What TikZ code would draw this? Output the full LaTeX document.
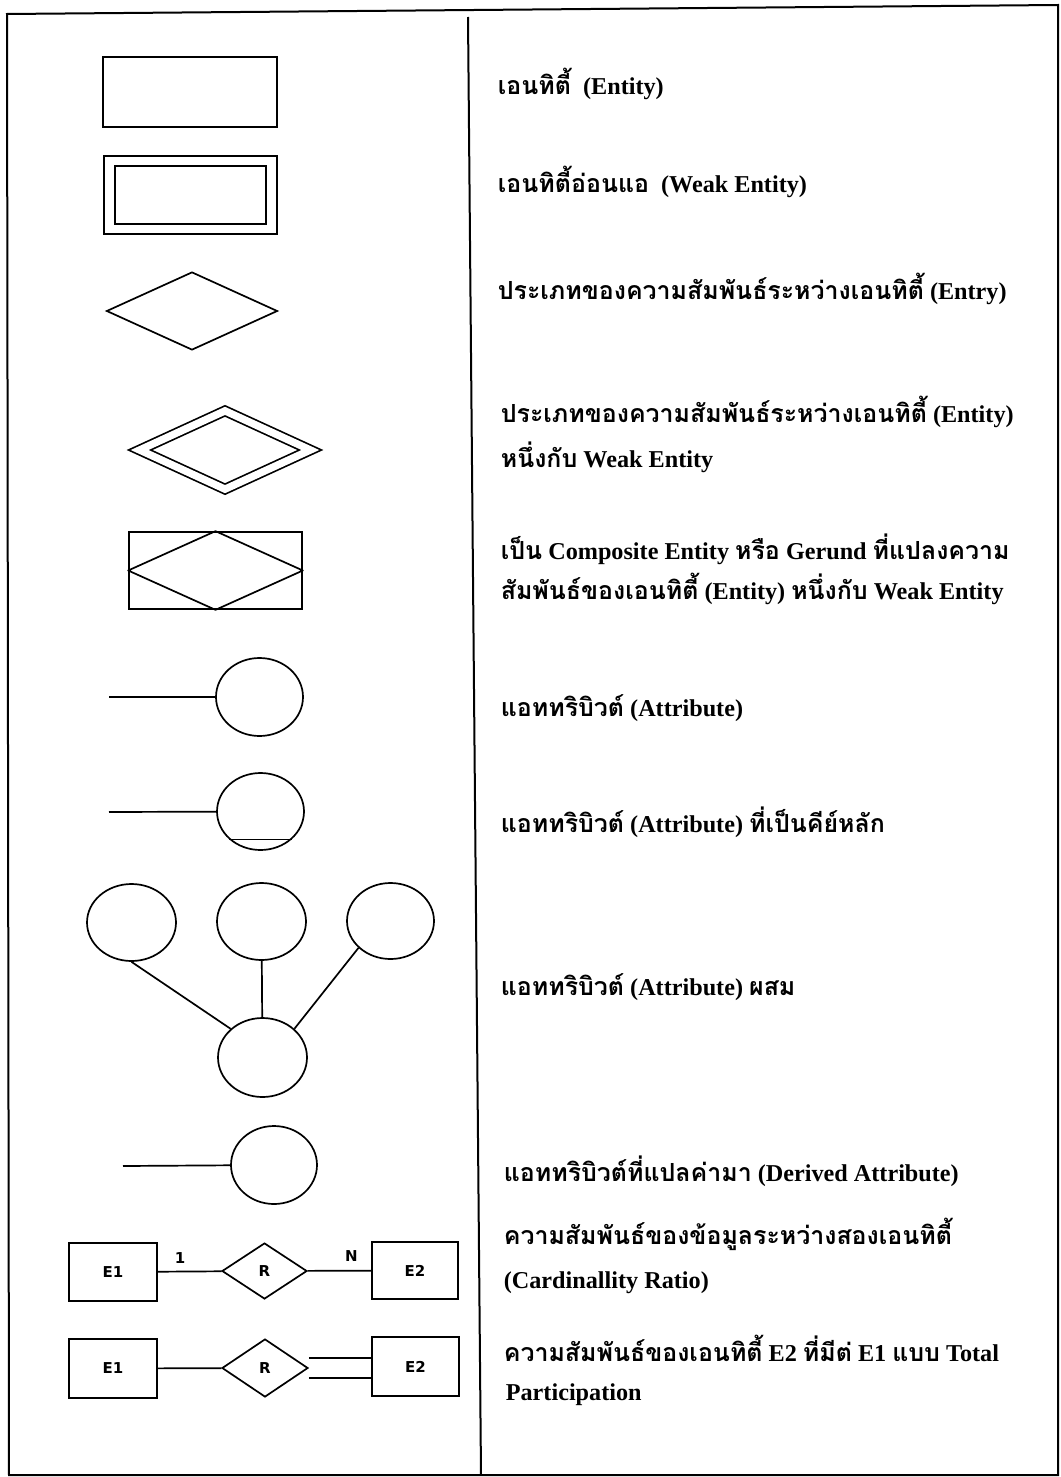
\documentclass[tikz,border=0pt]{standalone}
\usepackage{fontspec}
\setmainfont{Liberation Serif}
\newfontfamily\thaifont[Script=Thai,Scale=1.03]{Loma}
\newfontfamily\boxfont{DejaVu Sans}
\usetikzlibrary{shapes.geometric,calc,positioning}
\newcommand{\thtxt}[1]{{\thaifont #1}}

\begin{document}
\begin{tikzpicture}[x=0.5pt,y=-0.5pt,line width=0.85pt,
    ent/.style={draw, rectangle, inner sep=0pt},
    rel/.style={draw, diamond, inner sep=0pt},
    attr/.style={draw, ellipse, inner sep=0pt, minimum width=43.5pt, minimum height=39pt},
    desc/.style={anchor=base west, inner sep=0pt, font=\fontsize{12.1}{14}\selectfont\bfseries},
    lbl/.style={inner sep=0pt, font=\boxfont\bfseries\fontsize{7.5}{9}\selectfont}]
    \useasboundingbox (0,0) rectangle (1060,1477);
    % frame and divider
    \draw[line width=1pt] (7,14) -- (1058,5) -- (1058,1475) -- (9,1475) -- cycle;
    \draw[line width=1pt] (468,17) -- (481,1475);

    % symbols
    \node[ent, minimum width=87pt, minimum height=35pt] (entity) at (190,92) {};
    \node[ent, double, double distance=4.4pt, minimum width=81pt, minimum height=34pt] (weak) at (190.5,195) {};
    \node[rel, minimum width=85.5pt, minimum height=39pt] (relship) at (192,311) {};
    \node[rel, double, double distance=3.7pt, minimum width=85.75pt, minimum height=39.5pt] (idrel) at (225,450) {};
    \node[ent, minimum width=86.5pt, minimum height=38.5pt] (gerund) at (215.5,570.5) {};
    \draw[line join=round] (gerund.north) -- (gerund.east) -- (gerund.south) -- (gerund.west) -- cycle;

    \node[attr] (attrib) at (259.5,697) {};
    \coordinate (attribS) at (109,697);
    \draw (attribS) -- (attrib);

    \node[attr, minimum height=38.5pt] (keyattr) at (260.5,811.5) {};
    \coordinate (keyS) at (109,812);
    \draw (keyS) -- (keyattr);
    \draw (keyattr.222) -- (keyattr.318);

    \node[attr, minimum width=44.5pt, minimum height=38.5pt] (partA) at (131.5,922.5) {};
    \node[attr, minimum width=44.5pt, minimum height=38.5pt] (partB) at (261.5,921.5) {};
    \node[attr, minimum height=38pt] (partC) at (390.5,921) {};
    \node[attr, minimum width=44.5pt, minimum height=39.5pt] (compattr) at (262.5,1057.5) {};
    \draw (partA.south) -- (compattr.138);
    \draw (partB) -- (compattr);
    \draw (partC.220) -- (compattr.42);

    \node[attr, minimum width=43pt] (derived) at (274,1165) {};
    \coordinate (derivedS) at (123,1166);
    \draw (derivedS) -- (derived);

    \node[ent, lbl, minimum width=44pt, minimum height=29pt] (eA) at (113,1272) {E1};
    \node[rel, lbl, minimum width=42.5pt, minimum height=28pt] (rA) at (264.5,1271) {R};
    \node[ent, lbl, minimum width=43pt, minimum height=28.5pt] (eB) at (415,1270.5) {E2};
    \draw (eA) -- (rA) node[lbl, pos=0.35, above=3.5pt] {1};
    \draw (rA) -- (eB) node[lbl, pos=0.69, above=4pt] {N};

    \node[ent, lbl, minimum width=44pt, minimum height=29.5pt] (eC) at (113,1368.5) {E1};
    \node[rel, lbl, minimum width=43pt, minimum height=29pt] (rB) at (265,1368) {R};
    \node[ent, lbl, minimum width=43.5pt, minimum height=29.5pt] (eD) at (415.5,1366.5) {E2};
    \draw (eC) -- (rB);
    \draw ([yshift=5pt]rB.east) -- ([yshift=5pt]rB.east -| eD.west);
    \draw ([yshift=-5pt]rB.east) -- ([yshift=-5pt]rB.east -| eD.west);

    % descriptions
    \node[desc] (t1) at (497,95) {\thtxt{เอนทิตี้}\ \ (Entity)};
    \node[desc] (t2) at (497,192) {\thtxt{เอนทิตี้อ่อนแอ}\ \ (Weak Entity)};
    \node[desc] (t3) at (497,299) {\thtxt{ประเภทของความสัมพันธ์ระหว่างเอนทิตี้} (Entry)};
    \node[desc] (t4a) at (500,422) {\thtxt{ประเภทของความสัมพันธ์ระหว่างเอนทิตี้} (Entity)};
    \node[desc] (t4b) at (500,467) {\thtxt{หนึ่งกับ} Weak Entity};
    \node[desc] (t5a) at (500,559) {\thtxt{เป็น} Composite Entity \thtxt{หรือ} Gerund \thtxt{ที่แปลงความ}};
    \node[desc] (t5b) at (500,599) {\thtxt{สัมพันธ์ของเอนทิตี้} (Entity) \thtxt{หนึ่งกับ} Weak Entity};
    \node[desc] (t6) at (500,716) {\thtxt{แอททริบิวต์} (Attribute)};
    \node[desc] (t7) at (500,832) {\thtxt{แอททริบิวต์} (Attribute) \thtxt{ที่เป็นคีย์หลัก}};
    \node[desc] (t8) at (500,995) {\thtxt{แอททริบิวต์} (Attribute) \thtxt{ผสม}};
    \node[desc] (t9) at (503,1181) {\thtxt{แอททริบิวต์ที่แปลค่ามา} (Derived Attribute)};
    \node[desc] (t10a) at (503,1244) {\thtxt{ความสัมพันธ์ของข้อมูลระหว่างสองเอนทิตี้}};
    \node[desc] (t10b) at (503,1288) {(Cardinallity Ratio)};
    \node[desc] (t11a) at (503,1361) {\thtxt{ความสัมพันธ์ของเอนทิตี้} E2 \thtxt{ที่มีต่} E1 \thtxt{แบบ} Total};
    \node[desc] (t11b) at (505,1400) {Participation};
\end{tikzpicture}
\end{document}
